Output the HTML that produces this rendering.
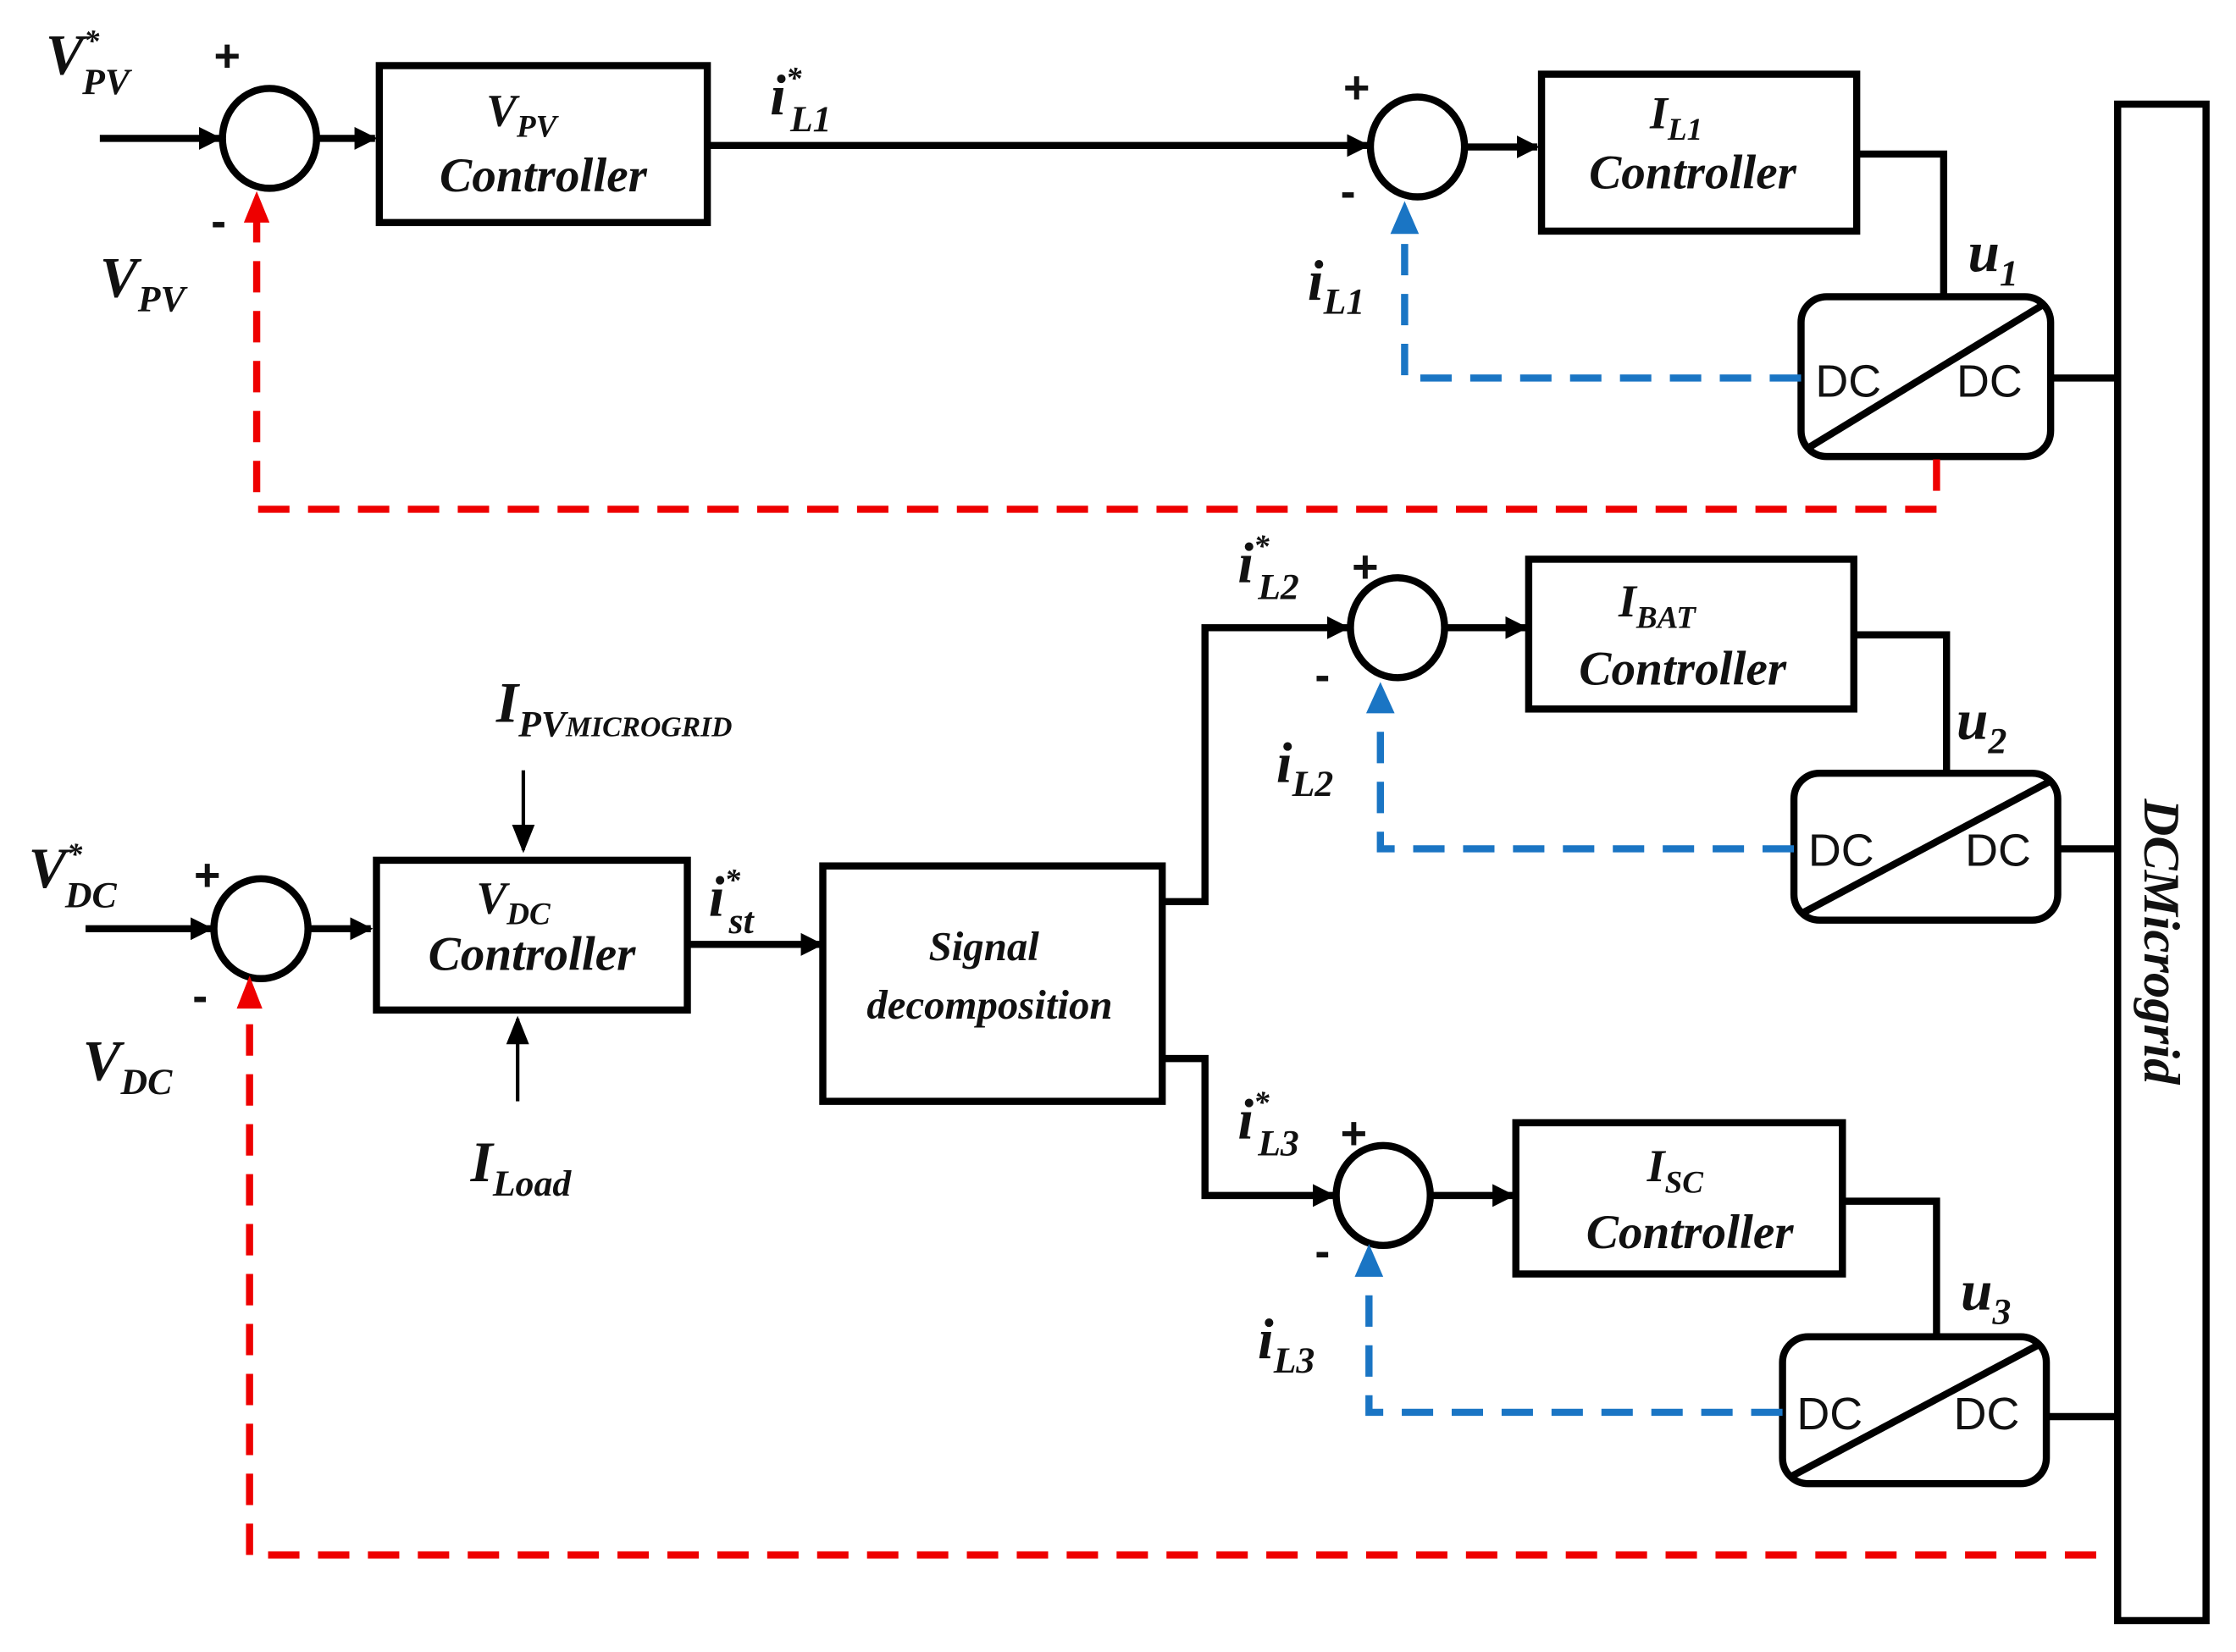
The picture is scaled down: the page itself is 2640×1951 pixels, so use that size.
<!DOCTYPE html>
<html><head><meta charset="utf-8"><style>
html,body{margin:0;padding:0;background:#fff;}
svg{display:block;}
.l{font-family:"Liberation Serif",serif;font-style:italic;font-weight:bold;fill:#111;}
.s{font-family:"Liberation Sans",sans-serif;fill:#111;}
</style></head><body>
<svg width="2640" height="1951" viewBox="0 0 1568 1158" preserveAspectRatio="none" xmlns="http://www.w3.org/2000/svg">
<defs>
<marker id="a" viewBox="0 0 10 10" refX="9" refY="5" markerWidth="3.2" markerHeight="3.2" orient="auto"><path d="M0,0L10,5L0,10z" fill="#000"/></marker>
<marker id="t" viewBox="0 0 10 10" refX="9" refY="5" markerWidth="8" markerHeight="8" orient="auto"><path d="M0,1L10,5L0,9z" fill="#000"/></marker>
</defs>
<g fill="none" stroke="#000" stroke-width="5">
<!-- top row -->
<line x1="70" y1="97" x2="154" y2="97" marker-end="url(#a)"/>
<ellipse cx="189" cy="97" rx="33" ry="35"/>
<line x1="222" y1="97" x2="263" y2="97" marker-end="url(#a)"/>
<rect x="266" y="46" width="230" height="110"/>
<line x1="496" y1="102" x2="959" y2="102" marker-end="url(#a)"/>
<ellipse cx="994" cy="103" rx="33" ry="35"/>
<line x1="1027" y1="103" x2="1078" y2="103" marker-end="url(#a)"/>
<rect x="1081" y="52" width="221" height="110"/>
<polyline points="1302,108 1363,108 1363,208"/>
<rect x="1263" y="208" width="175" height="112" rx="18"/>
<line x1="1268" y1="314" x2="1432" y2="214"/>
<line x1="1438" y1="265" x2="1485" y2="265"/>
<rect x="1485" y="73" width="62" height="1063"/>
<!-- middle -->
<polyline points="815,632 845,632 845,440 945,440" marker-end="url(#a)"/>
<ellipse cx="980" cy="440" rx="33" ry="35"/>
<line x1="1013" y1="440" x2="1070" y2="440" marker-end="url(#a)"/>
<rect x="1072" y="392" width="228" height="105"/>
<polyline points="1300,445 1365,445 1365,542"/>
<rect x="1258" y="542" width="185" height="103" rx="18"/>
<line x1="1264" y1="640" x2="1437" y2="548"/>
<line x1="1443" y1="595" x2="1485" y2="595"/>
<!-- bottom -->
<line x1="60" y1="651" x2="148" y2="651" marker-end="url(#a)"/>
<ellipse cx="183" cy="651" rx="33" ry="35"/>
<line x1="216" y1="651" x2="260" y2="651" marker-end="url(#a)"/>
<rect x="264" y="603" width="218" height="105"/>
<line x1="482" y1="662" x2="576" y2="662" marker-end="url(#a)"/>
<rect x="577" y="607" width="238" height="165"/>
<polyline points="815,742 845,742 845,838 935,838" marker-end="url(#a)"/>
<ellipse cx="970" cy="838" rx="33" ry="35"/>
<line x1="1003" y1="838" x2="1061" y2="838" marker-end="url(#a)"/>
<rect x="1063" y="787" width="229" height="106"/>
<polyline points="1292,842 1358,842 1358,937"/>
<rect x="1250" y="937" width="185" height="103" rx="18"/>
<line x1="1256" y1="1035" x2="1429" y2="943"/>
<line x1="1435" y1="993" x2="1485" y2="993"/>
</g>
<g stroke="#000" stroke-width="2.5">
<line x1="367" y1="540" x2="367" y2="596" marker-end="url(#t)"/>
<line x1="363" y1="772" x2="363" y2="714" marker-end="url(#t)"/>
</g>
<!-- dashed feedbacks -->
<g fill="none" stroke-width="5" stroke-dasharray="22,13">
<polyline stroke="#e00" points="1358,322 1358,357 180,357 180,155"/>
<polyline stroke="#e00" points="1470,1090 175,1090 175,705"/>
<polyline stroke="#1a75c4" points="1263,265 985,265 985,165"/>
<polyline stroke="#1a75c4" points="1258,595 968,595 968,500"/>
<polyline stroke="#1a75c4" points="1250,990 960,990 960,895"/>
</g>
<path d="M171,156L180,134L189,156z" fill="#e00"/>
<path d="M166,707L175,684L184,707z" fill="#e00"/>
<path d="M975,164L985,141L995,164z" fill="#1a75c4"/>
<path d="M958,500L968,478L978,500z" fill="#1a75c4"/>
<path d="M950,895L960,872L970,895z" fill="#1a75c4"/>
<!-- labels -->
<g class="l">
<text x="32" y="52" font-size="40">V<tspan dy="-16" font-size="22">*</tspan><tspan dx="-12" dy="30" font-size="26">PV</tspan></text>
<text x="70" y="208" font-size="40">V<tspan dy="10" font-size="26">PV</tspan></text>
<text x="341" y="88" font-size="32">V<tspan dy="8" font-size="22">PV</tspan></text>
<text x="381" y="134" font-size="34" text-anchor="middle">Controller</text>
<text x="540" y="80" font-size="40">i<tspan dy="-18" font-size="22">*</tspan><tspan dx="-8" dy="30" font-size="26">L1</tspan></text>
<text x="1157" y="90" font-size="32">I<tspan dy="8" font-size="22">L1</tspan></text>
<text x="1187" y="132" font-size="34" text-anchor="middle">Controller</text>
<text x="917" y="210" font-size="40">i<tspan dy="10" font-size="26">L1</tspan></text>
<text x="1380" y="190" font-size="40">u<tspan dy="10" font-size="26">1</tspan></text>
<text x="868" y="408" font-size="40">i<tspan dy="-18" font-size="22">*</tspan><tspan dx="-8" dy="30" font-size="26">L2</tspan></text>
<text x="1135" y="432" font-size="32">I<tspan dy="8" font-size="22">BAT</tspan></text>
<text x="1180" y="480" font-size="34" text-anchor="middle">Controller</text>
<text x="895" y="548" font-size="40">i<tspan dy="10" font-size="26">L2</tspan></text>
<text x="1372" y="518" font-size="40">u<tspan dy="10" font-size="26">2</tspan></text>
<text x="348" y="506" font-size="40">I<tspan dy="10" font-size="26">PV</tspan><tspan font-size="20">MICROGRID</tspan></text>
<text x="20" y="622" font-size="40">V<tspan dy="-16" font-size="22">*</tspan><tspan dx="-12" dy="30" font-size="26">DC</tspan></text>
<text x="58" y="757" font-size="40">V<tspan dy="10" font-size="26">DC</tspan></text>
<text x="334" y="640" font-size="32">V<tspan dy="8" font-size="22">DC</tspan></text>
<text x="373" y="680" font-size="34" text-anchor="middle">Controller</text>
<text x="497" y="642" font-size="40">i<tspan dy="-18" font-size="22">*</tspan><tspan dx="-8" dy="30" font-size="26">st</tspan></text>
<text x="690" y="673" font-size="29" text-anchor="middle">Signal</text>
<text x="694" y="714" font-size="29" text-anchor="middle">decomposition</text>
<text x="330" y="828" font-size="40">I<tspan dy="10" font-size="26">Load</tspan></text>
<text x="868" y="798" font-size="40">i<tspan dy="-18" font-size="22">*</tspan><tspan dx="-8" dy="30" font-size="26">L3</tspan></text>
<text x="1155" y="828" font-size="32">I<tspan dy="8" font-size="22">SC</tspan></text>
<text x="1185" y="875" font-size="34" text-anchor="middle">Controller</text>
<text x="882" y="952" font-size="40">i<tspan dy="10" font-size="26">L3</tspan></text>
<text x="1375" y="918" font-size="40">u<tspan dy="10" font-size="26">3</tspan></text>
<text transform="translate(1504,660) rotate(90)" font-size="36" text-anchor="middle">DCMicrogrid</text>
</g>
<g class="s" font-size="32" font-weight="bold">
<text x="150" y="50">+</text><text x="148" y="166">-</text>
<text x="942" y="72">+</text><text x="940" y="145">-</text>
<text x="948" y="408">+</text><text x="922" y="484">-</text>
<text x="136" y="624">+</text><text x="135" y="709">-</text>
<text x="940" y="805">+</text><text x="922" y="888">-</text>
</g>
<g class="s" font-size="32">
<text x="1273" y="278">DC</text><text x="1372" y="278">DC</text>
<text x="1268" y="607">DC</text><text x="1378" y="607">DC</text>
<text x="1260" y="1002">DC</text><text x="1370" y="1002">DC</text>
</g>
</svg>
</body></html>
